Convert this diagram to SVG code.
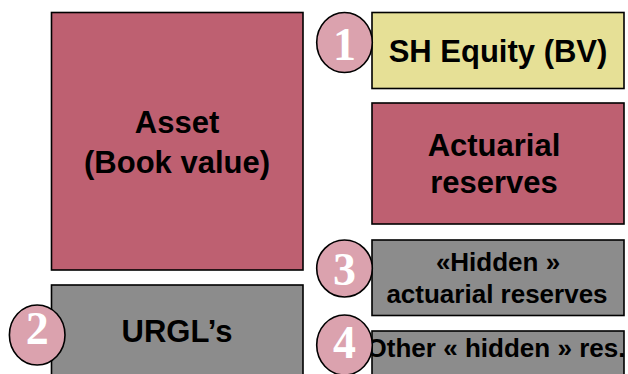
<svg xmlns="http://www.w3.org/2000/svg" width="628" height="374" viewBox="0 0 628 374">
<style>
.box{stroke:#000;stroke-width:1.6}
.rose{fill:#BE6071}
.gray{fill:#8C8C8C}
.yellow{fill:#E6E096}
.t{font-family:"Liberation Sans",Arial,sans-serif;font-weight:bold;fill:#000;text-anchor:middle}
.big{font-size:31px}
.mid{font-size:26px}
.badge{fill:#DBA2AE;stroke:#000;stroke-width:1.6}
.num{font-family:"Liberation Serif","Times New Roman",serif;font-weight:bold;font-size:46px;fill:#fff;text-anchor:middle}
</style>
<rect width="628" height="374" fill="#fff"/>
<g id="asset">
<rect class="box rose" x="51.5" y="12.5" width="251.5" height="257.5"/>
<text class="t big" x="177" y="133">Asset</text>
<text class="t big" x="177" y="173">(Book value)</text>
</g>
<g id="urgl">
<rect class="box gray" x="51.5" y="285" width="251.5" height="100"/>
<text class="t big" x="177" y="342">URGL’s</text>
</g>
<g id="equity">
<rect class="box yellow" x="372" y="12.5" width="252" height="76"/>
<text class="t big" x="498" y="62">SH Equity (BV)</text>
</g>
<g id="actuarial">
<rect class="box rose" x="372" y="103" width="252" height="121"/>
<text class="t big" x="494" y="156">Actuarial</text>
<text class="t big" x="494" y="193">reserves</text>
</g>
<g id="hidden">
<rect class="box gray" x="372" y="240" width="252" height="75.5"/>
<text class="t mid" x="498" y="271">«Hidden »</text>
<text class="t mid" x="497" y="303">actuarial reserves</text>
</g>
<g id="other">
<rect class="box gray" x="372" y="331" width="252" height="60"/>
<text class="t mid" x="496" y="357" textLength="259" lengthAdjust="spacingAndGlyphs">Other « hidden » res.</text>
</g>
<g id="badge1">
<ellipse class="badge" cx="344.5" cy="42.5" rx="27.8" ry="30"/>
<text class="num" x="344.5" y="60">1</text>
</g>
<g id="badge2">
<ellipse class="badge" cx="37.2" cy="335" rx="27.8" ry="30"/>
<text class="num" x="37.2" y="344">2</text>
</g>
<g id="badge3">
<ellipse class="badge" cx="344.5" cy="268.5" rx="27.8" ry="28.5"/>
<text class="num" x="344.5" y="285">3</text>
</g>
<g id="badge4">
<ellipse class="badge" cx="344.5" cy="345" rx="27.8" ry="30"/>
<text class="num" x="344.5" y="358">4</text>
</g>
<g id="connectors"></g>
</svg>
